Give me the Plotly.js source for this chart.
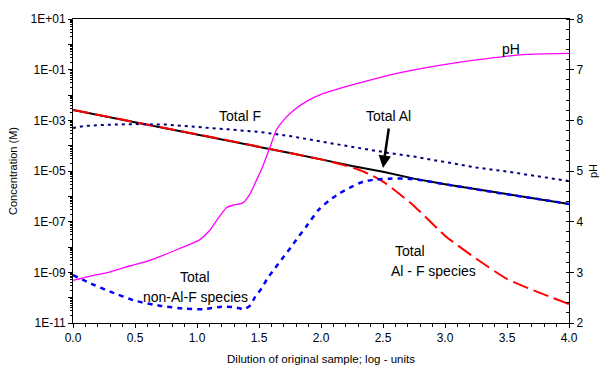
<!DOCTYPE html>
<html>
<head>
<meta charset="utf-8">
<script src="https://cdn.plot.ly/plotly-3.0.1.min.js"></script>
<style>html,body{margin:0;padding:0;background:#fff;}#chart{width:600px;height:369px;}</style>
</head>
<body>
<div id="chart"></div>
<script>
// Dilution (log units) and concentrations (M)
const alX = [0, 0.25, 0.5, 0.75, 1.0, 1.25, 1.5, 1.75, 2.0, 2.25, 2.5, 2.75, 3.0, 3.25, 3.5, 3.75, 4.0];
const totalAl = [2.57e-3, 1.48e-3, 8.5e-4, 4.9e-4, 2.82e-4, 1.62e-4, 9.1e-5, 5.1e-5, 2.88e-5, 1.58e-5, 9.3e-6, 5.0e-6, 3.0e-6, 1.9e-6, 1.2e-6, 7.8e-7, 5.0e-7];

const alfX = [0, 0.25, 0.5, 0.75, 1.0, 1.25, 1.5, 1.75, 2.0, 2.15, 2.3, 2.4, 2.5, 2.6, 2.75, 3.0, 3.25, 3.5, 3.75, 4.0];
const totalAlF = [2.57e-3, 1.48e-3, 8.5e-4, 4.9e-4, 2.82e-4, 1.62e-4, 9.1e-5, 5.1e-5, 2.88e-5, 1.9e-5, 1.15e-5, 7.1e-6, 3.8e-6, 1.66e-6, 4.2e-7, 2.8e-8, 3.5e-9, 5.5e-10, 1.66e-10, 5.6e-11];

const fX = [0, 0.1, 0.25, 0.5, 0.75, 1.0, 1.25, 1.5, 1.75, 2.0, 2.25, 2.5, 2.75, 3.0, 3.25, 3.5, 3.75, 4.0];
const totalF = [5.0e-4, 6.0e-4, 6.6e-4, 7.1e-4, 6.8e-4, 5.6e-4, 4.4e-4, 3.5e-4, 2.4e-4, 1.45e-4, 8.9e-5, 5.6e-5, 3.7e-5, 2.2e-5, 1.38e-5, 9.5e-6, 6.2e-6, 4.0e-6];

const nonX = [0, 0.15, 0.3, 0.5, 0.7, 0.9, 1.05, 1.2, 1.3, 1.38, 1.43, 1.47, 1.52, 1.57, 1.63, 1.70, 1.76, 1.82, 1.88, 1.98, 2.07, 2.15, 2.25, 2.34, 2.45, 2.55, 2.7, 2.8, 3.0, 3.25, 3.5, 3.75, 4.0];
const nonAlF = [7.8e-10, 3.5e-10, 1.74e-10, 7.6e-11, 4.8e-11, 3.7e-11, 3.5e-11, 4.4e-11, 4.2e-11, 3.5e-11, 5.0e-11, 1.1e-10, 2.3e-10, 6.0e-10, 1.48e-9, 4.2e-9, 1.02e-8, 2.6e-8, 6.3e-8, 2.9e-7, 7.1e-7, 1.32e-6, 2.4e-6, 3.8e-6, 4.7e-6, 5.0e-6, 5.0e-6, 4.4e-6, 3.0e-6, 1.9e-6, 1.2e-6, 7.8e-7, 5.0e-7];

const phX = [0, 0.15, 0.3, 0.46, 0.6, 0.7, 0.86, 1.02, 1.1, 1.16, 1.24, 1.3, 1.37, 1.43, 1.48, 1.53, 1.59, 1.64, 1.70, 1.78, 1.88, 2.02, 2.15, 2.31, 2.48, 2.64, 2.85, 3.07, 3.34, 3.6, 3.8, 4.0];
const pH = [2.84, 2.93, 3.01, 3.13, 3.22, 3.31, 3.47, 3.64, 3.82, 4.03, 4.28, 4.33, 4.37, 4.56, 4.82, 5.09, 5.48, 5.81, 6.01, 6.20, 6.37, 6.53, 6.63, 6.74, 6.85, 6.94, 7.04, 7.13, 7.22, 7.29, 7.31, 7.32];

const concTickVals = [1e1, 1e0, 1e-1, 1e-2, 1e-3, 1e-4, 1e-5, 1e-6, 1e-7, 1e-8, 1e-9, 1e-10, 1e-11];
const concTickText = ['1E+01', '', '1E-01', '', '1E-03', '', '1E-05', '', '1E-07', '', '1E-09', '', '1E-11'];

const FONT = 'Liberation Sans, Arial, sans-serif';

const traces = [
  {x: alX, y: totalAl, mode: 'lines', line: {color: '#000000', width: 2}, hoverinfo: 'skip'},
  {x: alfX, y: totalAlF, mode: 'lines', line: {color: '#ff0000', width: 2, dash: '16px,6px', shape: 'spline', smoothing: 0.6}, hoverinfo: 'skip'},
  {x: fX, y: totalF, mode: 'lines', line: {color: '#000080', width: 2, dash: '3px,4px'}, hoverinfo: 'skip'},
  {x: nonX, y: nonAlF, mode: 'lines', line: {color: '#0000ff', width: 2.5, dash: '5px,5px', shape: 'spline', smoothing: 0.6}, hoverinfo: 'skip'},
  {x: phX, y: pH, yaxis: 'y2', mode: 'lines', line: {color: '#ff00ff', width: 1.3, shape: 'spline', smoothing: 0.6}, hoverinfo: 'skip'}
];

function ann(text, x, y, xanchor) {
  return {text: text, xref: 'paper', yref: 'paper', x: x, y: y, xanchor: xanchor || 'center', yanchor: 'middle',
          showarrow: false, font: {family: FONT, size: 14, color: '#000'}};
}

const layout = {
  width: 600, height: 369,
  margin: {l: 73, r: 31, t: 19, b: 46, pad: 0},
  paper_bgcolor: '#fff', plot_bgcolor: '#fff',
  showlegend: false,
  font: {family: FONT, size: 12, color: '#000'},
  xaxis: {
    range: [0, 4], dtick: 0.5, tick0: 0, tickformat: '.1f',
    showgrid: false, zeroline: false, showline: true, linecolor: '#000', linewidth: 1, mirror: true,
    ticks: 'outside', ticklen: 4, tickcolor: '#000',
    minor: {dtick: 0.1, ticks: 'outside', ticklen: 3, tickcolor: '#000', showgrid: false},
    tickfont: {family: FONT, size: 12, color: '#000'},
    title: {text: 'Dilution of original sample; log - units', font: {family: FONT, size: 11.5, color: '#000'}, standoff: 10}
  },
  yaxis: {
    type: 'log', range: [-11, 1], tickmode: 'array', tickvals: concTickVals, ticktext: concTickText,
    showgrid: false, zeroline: false, showline: true, linecolor: '#000', linewidth: 1,
    ticks: 'outside', ticklen: 4, tickcolor: '#000',
    minor: {dtick: 'D1', ticks: 'outside', ticklen: 2, tickcolor: '#000', showgrid: false},
    tickfont: {family: FONT, size: 12, color: '#000'},
    title: {text: 'Concentration (M)', font: {family: FONT, size: 11, color: '#000'}, standoff: 10}
  },
  yaxis2: {
    overlaying: 'y', side: 'right', range: [2, 8], dtick: 1, tick0: 2,
    showgrid: false, zeroline: false, showline: true, linecolor: '#000', linewidth: 1,
    ticks: 'outside', ticklen: 4, tickcolor: '#000',
    minor: {dtick: 0.2, ticks: 'inside', ticklen: 3, tickcolor: '#000', showgrid: false},
    tickfont: {family: FONT, size: 12, color: '#000'},
    title: {text: 'pH', font: {family: FONT, size: 11, color: '#000'}, standoff: 6}
  },
  annotations: [
    ann('pH', 0.883, 0.901),
    ann('Total F', 0.337, 0.681),
    ann('Total Al', 0.637, 0.681),
    ann('Total', 0.246, 0.151),
    ann('non-Al-F species', 0.246, 0.0855),
    ann('Total', 0.645, 0.237, 'left'),
    ann('Al - F species', 0.637, 0.171, 'left'),
    {text: '', xref: 'x', yref: 'y', x: 2.5, y: -4.88, ax: 6, ay: -41, showarrow: true,
     arrowhead: 2, arrowsize: 1, arrowwidth: 2.5, arrowcolor: '#000', standoff: 0}
  ]
};

Plotly.newPlot('chart', traces, layout, {displayModeBar: false, staticPlot: true});
</script>
</body>
</html>
